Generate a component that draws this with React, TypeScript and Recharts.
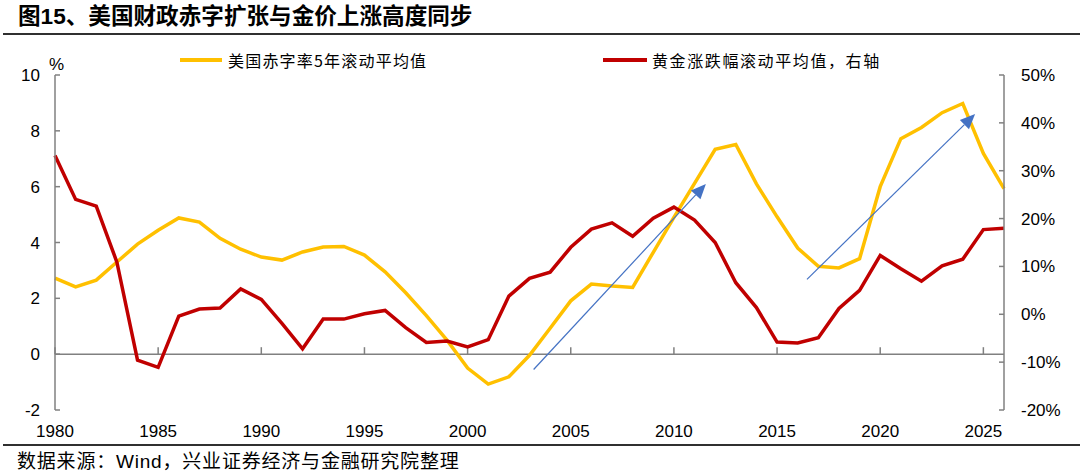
import React from 'react';
import { LineChart, Line, XAxis, YAxis, ReferenceLine } from 'recharts';

const years = [
  1980, 1981, 1982, 1983, 1984, 1985, 1986, 1987, 1988, 1989,
  1990, 1991, 1992, 1993, 1994, 1995, 1996, 1997, 1998, 1999,
  2000, 2001, 2002, 2003, 2004, 2005, 2006, 2007, 2008, 2009,
  2010, 2011, 2012, 2013, 2014, 2015, 2016, 2017, 2018, 2019,
  2020, 2021, 2022, 2023, 2024, 2025, 2026,
];

// 美国赤字率5年滚动平均值, %
const deficitAvg = [
  2.72, 2.41, 2.65, 3.3, 3.94, 4.44, 4.88, 4.73, 4.15, 3.76,
  3.48, 3.37, 3.66, 3.84, 3.86, 3.55, 2.95, 2.2, 1.38, 0.5,
  -0.5, -1.07, -0.81, -0.04, 0.93, 1.91, 2.51, 2.44, 2.39, 3.65,
  4.9, 6.12, 7.34, 7.51, 6.1, 4.92, 3.8, 3.15, 3.09, 3.42,
  6.0, 7.72, 8.12, 8.65, 8.98, 7.19, 5.93,
];

// 黄金涨跌幅滚动平均值, % (右轴)
const goldAvg = [
  33.2, 24.0, 22.6, 10.9, -9.6, -11.1, -0.4, 1.1, 1.3, 5.3,
  3.1, -1.9, -7.2, -1.0, -1.0, 0.1, 0.8, -2.8, -5.9, -5.6,
  -6.8, -5.3, 3.8, 7.5, 8.8, 14.0, 17.8, 19.1, 16.3, 20.1,
  22.4, 19.7, 15.0, 6.6, 1.4, -5.8, -6.0, -4.9, 1.2, 5.0,
  12.3, 9.5, 6.9, 10.1, 11.5, 17.7, 18.0,
];

const xTicks = [1980, 1985, 1990, 1995, 2000, 2005, 2010, 2015, 2020, 2025];
const leftTicks = [-2, 0, 2, 4, 6, 8, 10];
const rightTicks = [-20, -10, 0, 10, 20, 30, 40, 50];

// 趋势箭头（起点 -> 终点，左轴坐标）
const arrows = [
  { x1: 2003.2, y1: -0.55, x2: 2011.55, y2: 6.1 },
  { x1: 2016.45, y1: 2.68, x2: 2024.6, y2: 8.6 },
];

const data = years.map((year, i) => ({
  year,
  deficit: deficitAvg[i],
  gold: goldAvg[i],
}));

const latin = '"Liberation Sans", Arial, "Noto Sans CJK SC", sans-serif';
const cjk = '"Noto Sans CJK SC", sans-serif';
const axisGray = '#808080';
const tickStyle = { fontSize: 17, fill: '#000', fontFamily: latin };

const ArrowShape = (props: any) => {
  const { x1, y1, x2, y2 } = props;
  const ang = Math.atan2(y2 - y1, x2 - x1);
  const len = 15;
  const half = 6.5;
  const bx = x2 - len * Math.cos(ang);
  const by = y2 - len * Math.sin(ang);
  const px = -Math.sin(ang) * half;
  const py = Math.cos(ang) * half;
  return (
    <g>
      <line x1={x1} y1={y1} x2={bx} y2={by} stroke="#4472C4" strokeWidth={1.2} />
      <polygon
        points={`${x2},${y2} ${bx + px},${by + py} ${bx - px},${by - py}`}
        fill="#4472C4"
      />
    </g>
  );
};

const App = () => {
  return (
    <div
      style={{
        position: 'absolute',
        left: 0,
        top: 0,
        width: 1080,
        height: 471,
        background: '#fff',
        fontFamily: latin,
      }}
    >
      <LineChart
        width={1080}
        height={471}
        data={data}
        margin={{ top: 75, right: 0, bottom: 0, left: 0 }}
      >
        <XAxis
          dataKey="year"
          type="number"
          domain={[1980, 2026]}
          ticks={xTicks}
          interval={0}
          axisLine={false}
          tickLine={false}
          tickSize={0}
          tickMargin={15}
          height={61}
          tick={tickStyle}
        />
        <YAxis
          yAxisId="left"
          domain={[-2, 10]}
          ticks={leftTicks}
          interval={0}
          width={55}
          axisLine={{ stroke: axisGray, strokeWidth: 1.5 }}
          tickLine={{ stroke: axisGray, strokeWidth: 1.5 }}
          tickSize={-5}
          tickMargin={20}
          tick={tickStyle}
        />
        <YAxis
          yAxisId="right"
          orientation="right"
          domain={[-20, 50]}
          ticks={rightTicks}
          interval={0}
          width={76}
          tickFormatter={(v: number) => `${v}%`}
          axisLine={{ stroke: axisGray, strokeWidth: 1.5 }}
          tickLine={{ stroke: axisGray, strokeWidth: 1.5 }}
          tickSize={-5}
          tickMargin={22}
          tick={tickStyle}
        />
        <ReferenceLine yAxisId="left" y={0} stroke={axisGray} strokeWidth={1.5} />
        {xTicks.map((t) => (
          <ReferenceLine
            key={t}
            yAxisId="left"
            segment={[
              { x: t, y: 0 },
              { x: t, y: 0.25 },
            ]}
            stroke={axisGray}
            strokeWidth={1.5}
          />
        ))}
        <Line
          yAxisId="left"
          dataKey="deficit"
          stroke="#FFC000"
          strokeWidth={3.5}
          dot={false}
          activeDot={false}
          isAnimationActive={false}
        />
        <Line
          yAxisId="right"
          dataKey="gold"
          stroke="#C00000"
          strokeWidth={3.5}
          dot={false}
          activeDot={false}
          isAnimationActive={false}
        />
        {arrows.map((a, i) => (
          <ReferenceLine
            key={`arrow-${i}`}
            yAxisId="left"
            segment={[
              { x: a.x1, y: a.y1 },
              { x: a.x2, y: a.y2 },
            ]}
            shape={ArrowShape}
          />
        ))}
      </LineChart>

      {/* 标题 */}
      <div
        style={{
          position: 'absolute',
          left: 18,
          top: 4,
          fontSize: 22.6,
          lineHeight: '26px',
          fontWeight: 'bold',
          color: '#000',
          fontFamily: latin,
          whiteSpace: 'nowrap',
        }}
      >
        图15、美国财政赤字扩张与金价上涨高度同步
      </div>
      <div style={{ position: 'absolute', left: 3, top: 33, width: 1077, height: 2, background: '#303030' }} />

      {/* 单位 */}
      <div style={{ position: 'absolute', left: 49, top: 55, fontSize: 17, lineHeight: '20px', color: '#000' }}>%</div>

      {/* 图例 */}
      <div style={{ position: 'absolute', left: 180, top: 58, width: 42, height: 3.5, background: '#FFC000' }} />
      <div
        style={{
          position: 'absolute',
          left: 228,
          top: 49,
          fontSize: 16,
          lineHeight: '22px',
          letterSpacing: 1.2,
          color: '#000',
          fontFamily: cjk,
          whiteSpace: 'nowrap',
        }}
      >
        美国赤字率5年滚动平均值
      </div>
      <div style={{ position: 'absolute', left: 603, top: 58, width: 44, height: 3.5, background: '#C00000' }} />
      <div
        style={{
          position: 'absolute',
          left: 652,
          top: 49,
          fontSize: 16,
          lineHeight: '22px',
          letterSpacing: 1.6,
          color: '#000',
          fontFamily: cjk,
          whiteSpace: 'nowrap',
        }}
      >
        黄金涨跌幅滚动平均值，右轴
      </div>

      {/* 数据来源 */}
      <div style={{ position: 'absolute', left: 3, top: 444, width: 1077, height: 2, background: '#303030' }} />
      <div
        style={{
          position: 'absolute',
          left: 17,
          top: 449,
          fontSize: 19,
          lineHeight: '25px',
          letterSpacing: 0.8,
          color: '#000',
          fontFamily: latin,
          whiteSpace: 'nowrap',
        }}
      >
        数据来源：Wind，兴业证券经济与金融研究院整理
      </div>
    </div>
  );
};

export default App;
